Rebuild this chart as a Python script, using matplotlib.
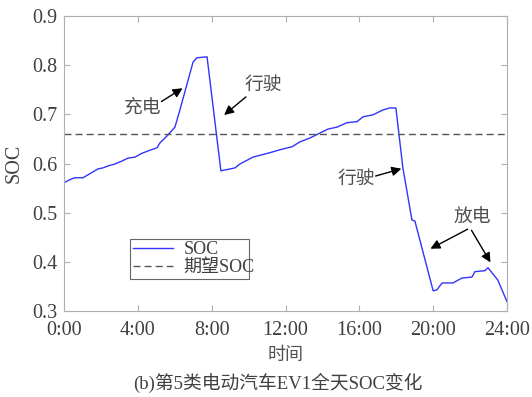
import matplotlib.pyplot as plt
import numpy as np

plt.rcParams['font.family'] = ['Liberation Serif', 'Noto Sans CJK SC']

# SOC 曲线 (小时, SOC)
hours = [0.0, 0.43, 0.6, 1.03, 1.3, 1.57, 1.84, 2.11, 2.38, 2.76, 3.14, 3.47,
         3.85, 4.23, 4.66, 5.04, 5.2, 5.58, 6.01, 6.28, 6.99, 7.2, 7.75, 8.5,
         8.61, 9.26, 9.53, 10.24, 11.16, 11.7, 12.35, 12.78, 13.33, 13.87,
         14.3, 14.79, 15.33, 15.87, 16.2, 16.74, 17.28, 17.66, 17.98, 18.36,
         18.85, 19.01, 20.0, 20.2, 20.48, 21.07, 21.56, 22.1, 22.26, 22.8,
         22.97, 23.5, 24.0]
soc = [0.561, 0.569, 0.571, 0.571, 0.577, 0.583, 0.589, 0.591, 0.595, 0.599,
       0.605, 0.611, 0.613, 0.621, 0.627, 0.632, 0.642, 0.656, 0.674, 0.709,
       0.806, 0.815, 0.817, 0.585, 0.586, 0.591, 0.599, 0.613, 0.622, 0.628,
       0.634, 0.644, 0.652, 0.662, 0.670, 0.674, 0.683, 0.685, 0.695, 0.699,
       0.709, 0.713, 0.713, 0.591, 0.485, 0.483, 0.341, 0.343, 0.357, 0.357,
       0.367, 0.369, 0.380, 0.382, 0.388, 0.363, 0.319]
soc_target = 0.66

xticks = [0, 4, 8, 12, 16, 20, 24]
xtick_labels = ['0:00', '4:00', '8:00', '12:00', '16:00', '20:00', '24:00']
yticks = [0.3, 0.4, 0.5, 0.6, 0.7, 0.8, 0.9]

txt = '#404040'
cjk = '#505050'
fig = plt.figure(figsize=(5.32, 3.97), dpi=100)
ax = fig.add_axes([64 / 532, 86 / 397, 443 / 532, 295 / 397])

ax.plot(hours, soc, color='#3333ff', lw=1.0, label='SOC')
ax.axhline(soc_target, color='#555555', lw=1.0, ls=(0, (5, 3)), label='期望SOC')

ax.set_xlim(0, 24)
ax.set_ylim(0.3, 0.9)
ax.set_xticks(xticks)
ax.set_xticklabels(xtick_labels)
ax.set_yticks(yticks)
ax.set_yticklabels(['%.1f' % v for v in yticks])
ax.tick_params(direction='in', top=True, right=True, labelsize=14.5,
               colors='#b0b0b0', labelcolor=txt, length=4, width=0.8)
ax.tick_params(axis='x', pad=7)
ax.tick_params(axis='y', pad=5)
for s in ax.spines.values():
    s.set_color('#b0b0b0')
    s.set_linewidth(0.8)

ax.set_xlabel('时间', fontsize=13, color=cjk, labelpad=5)
ax.set_ylabel('SOC', fontsize=14.5, color=txt, labelpad=6)

arrow = dict(arrowstyle='-|>', color='black', lw=1.0, mutation_scale=14)
ax.annotate('', xy=(6.55, 0.756), xytext=(5.15, 0.723), arrowprops=arrow)
ax.text(4.28, 0.713, '充电', fontsize=13.5, color=cjk, ha='center', va='center')
ax.annotate('', xy=(8.56, 0.695), xytext=(9.97, 0.739), arrowprops=arrow)
ax.text(10.78, 0.759, '行驶', fontsize=13.5, color=cjk, ha='center', va='center')
ax.annotate('', xy=(18.42, 0.591), xytext=(16.74, 0.573), arrowprops=arrow)
ax.text(15.85, 0.567, '行驶', fontsize=13.5, color=cjk, ha='center', va='center')
ax.annotate('', xy=(19.72, 0.424), xytext=(22.0, 0.469), arrowprops=arrow)
ax.annotate('', xy=(23.18, 0.394), xytext=(22.0, 0.469), arrowprops=arrow)
ax.text(22.1, 0.489, '放电', fontsize=13.5, color=cjk, ha='center', va='center')

leg = ax.legend(loc='lower left', bbox_to_anchor=(0.129, 0.078, 0.309, 0.186),
                mode='expand', fontsize=13, frameon=True, fancybox=False,
                borderpad=0.15, handlelength=2.2, labelspacing=0.05,
                handletextpad=0.6)
leg.get_frame().set_edgecolor('#404040')
leg.get_frame().set_linewidth(0.8)
for t in leg.get_texts():
    t.set_color(txt)

fig.text(278 / 532, 1 - 383 / 397, '(b)第5类电动汽车EV1全天SOC变化',
         fontsize=13.5, color=txt, ha='center', va='center')

fig.savefig('out.png', dpi=100)
